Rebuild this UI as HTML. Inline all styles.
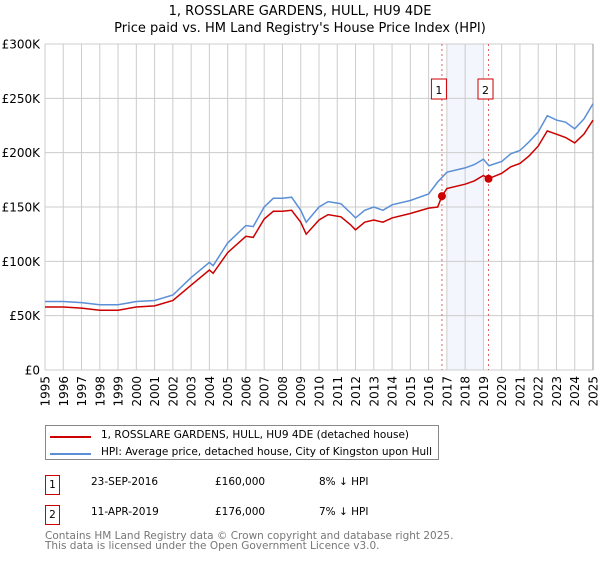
<!DOCTYPE html>
<html><head><meta charset="utf-8"><style>
body{margin:0;background:#fff;font-family:"DejaVu Sans","Liberation Sans",sans-serif;}
svg text{font-family:"DejaVu Sans","Liberation Sans",sans-serif;}
</style></head><body>
<svg id="c" width="600" height="560" xmlns="http://www.w3.org/2000/svg">
<text x="300" y="15" text-anchor="middle" font-size="13" fill="#000">1, ROSSLARE GARDENS, HULL, HU9 4DE</text>
<text x="300" y="32" text-anchor="middle" font-size="13" fill="#000">Price paid vs. HM Land Registry's House Price Index (HPI)</text>
<g id="grid"></g><g id="series"></g>
</svg>
<script>
const hpiYears=[1995,1996,1997,1998,1999,2000,2001,2002,2003,2004,2004.2,2005,2006,2006.4,2007,2007.5,2008,2008.5,2009,2009.3,2010,2010.5,2011.2,2011.7,2012,2012.5,2013,2013.5,2014,2015,2016,2016.5,2017,2018,2018.5,2019,2019.3,2020,2020.5,2021,2021.5,2022,2022.5,2023,2023.5,2024,2024.5,2025];
const hpiValues=[63,63,62,60,60,63,64,69,85,99,96,117,133,132,150,158,158,159,147,136,150,155,153,145,140,147,150,147,152,156,162,173,182,186,189,194,188,192,199,202,210,219,234,230,228,222,231,245];
const priceYears=[1995,1996,1997,1998,1999,2000,2001,2002,2003,2004,2004.2,2005,2006,2006.4,2007,2007.5,2008,2008.5,2009,2009.3,2010,2010.5,2011.2,2011.7,2012,2012.5,2013,2013.5,2014,2015,2016,2016.5,2016.73,2017,2018,2018.5,2019,2019.28,2020,2020.5,2021,2021.5,2022,2022.5,2023,2023.5,2024,2024.5,2025];
const priceValues=[58,58,57,55,55,58,59,64,78,92,89,108,123,122,139,146,146,147,136,125,138,143,141,134,129,136,138,136,140,144,149,150,160,167,171,174,179,176,181,187,190,197,206,220,217,214,209,217,230];
const saleYears=[2016.73,2019.28];
const saleValues=[160,176];
const saleLabels=["1","2"];
const yTicks=[0,50,100,150,200,250,300];
const yTickLabels=["£0","£50K","£100K","£150K","£200K","£250K","£300K"];
const xTicks=[1995,1996,1997,1998,1999,2000,2001,2002,2003,2004,2005,2006,2007,2008,2009,2010,2011,2012,2013,2014,2015,2016,2017,2018,2019,2020,2021,2022,2023,2024,2025];
const X=y=>45+(y-1995)*(548/30);
const Y=v=>370-v*(326/300);
const NS="http://www.w3.org/2000/svg";
const grid=document.getElementById('grid'),ser=document.getElementById('series');
function mk(p,tag,at){const e=document.createElementNS(NS,tag);for(const k in at)e.setAttribute(k,at[k]);p.appendChild(e);return e;}
const band=mk(grid,'rect',{x:X(2017),y:44,width:X(2019)-X(2017),height:326,fill:'#eef2fc',opacity:0.7});


xTicks.forEach(t=>{const l=mk(grid,'line',{x1:X(t),x2:X(t),y1:44,y2:370,stroke:'#cccccc','stroke-width':1});


const tx=mk(grid,'text',{x:0,y:0,'font-size':12,fill:'#000','text-anchor':'end',transform:`translate(${X(t)+4.5},376) rotate(-90)`});
tx.textContent=t;

});
yTicks.forEach((t,i)=>{const l=mk(grid,'line',{x1:45,x2:593,y1:Y(t),y2:Y(t),stroke:'#cccccc','stroke-width':1});


const tx=mk(grid,'text',{x:40,y:Y(t)+4.5,'font-size':12,fill:'#000','text-anchor':'end'});
tx.textContent=yTickLabels[i];

});
const rl=mk(grid,'line',{x1:593,x2:593,y1:44,y2:370,stroke:'#999','stroke-width':1});


const pts=(xs,vs)=>xs.map((x,i)=>X(x).toFixed(1)+','+Y(vs[i]).toFixed(1)).join(' ');
saleYears.forEach((s,i)=>{const l=mk(ser,'line',{x1:X(s),x2:X(s),y1:44,y2:370,stroke:'#e06060','stroke-width':1,'stroke-dasharray':'2,3'});

});
const hp=mk(ser,'polyline',{points:pts(hpiYears,hpiValues),fill:'none',stroke:'#5b8fd6','stroke-width':1.5});


const pp=mk(ser,'polyline',{points:pts(priceYears,priceValues),fill:'none',stroke:'#cc0000','stroke-width':1.5});


saleYears.forEach((s,i)=>{const c=mk(ser,'circle',{cx:X(s),cy:Y(saleValues[i]),r:4,fill:'#cc0000'});


const b=mk(ser,'rect',{x:X(s)-10.5,y:79,width:15,height:20,fill:'#fff',stroke:'#cc0000','stroke-width':1});


const t=mk(ser,'text',{x:X(s)-3,y:94,'font-size':11,'text-anchor':'middle',fill:'#000'});
t.textContent=saleLabels[i];

});
</script>
<div style="position:absolute;left:45px;top:425px;width:394px;height:35px;border:1px solid #888;box-sizing:border-box;font-size:10.5px;">
<div style="position:absolute;left:4px;top:10px;width:41px;height:2px;background:#cc0000"></div>
<div style="position:absolute;left:55px;top:3px;white-space:nowrap">1, ROSSLARE GARDENS, HULL, HU9 4DE (detached house)</div>
<div style="position:absolute;left:4px;top:27px;width:41px;height:2px;background:#5b8fd6"></div>
<div style="position:absolute;left:55px;top:20px;white-space:nowrap">HPI: Average price, detached house, City of Kingston upon Hull</div>
</div>
<div style="position:absolute;left:0;top:0;font-size:10.5px;">
<div style="position:absolute;left:45px;top:475px;width:15px;height:20px;border:1px solid #cc0000;box-sizing:border-box;text-align:center;line-height:18px">1</div>
<div style="position:absolute;left:91px;top:476px;white-space:nowrap">23-SEP-2016</div>
<div style="position:absolute;left:215px;top:476px;white-space:nowrap">£160,000</div>
<div style="position:absolute;left:319px;top:476px;white-space:nowrap">8% ↓ HPI</div>
<div style="position:absolute;left:45px;top:505px;width:15px;height:20px;border:1px solid #cc0000;box-sizing:border-box;text-align:center;line-height:18px">2</div>
<div style="position:absolute;left:91px;top:506px;white-space:nowrap">11-APR-2019</div>
<div style="position:absolute;left:215px;top:506px;white-space:nowrap">£176,000</div>
<div style="position:absolute;left:319px;top:506px;white-space:nowrap">7% ↓ HPI</div>
<div style="position:absolute;left:45px;top:531px;white-space:nowrap;color:#777;line-height:10px">Contains HM Land Registry data © Crown copyright and database right 2025.<br>This data is licensed under the Open Government Licence v3.0.</div>
</div>
</body></html>
